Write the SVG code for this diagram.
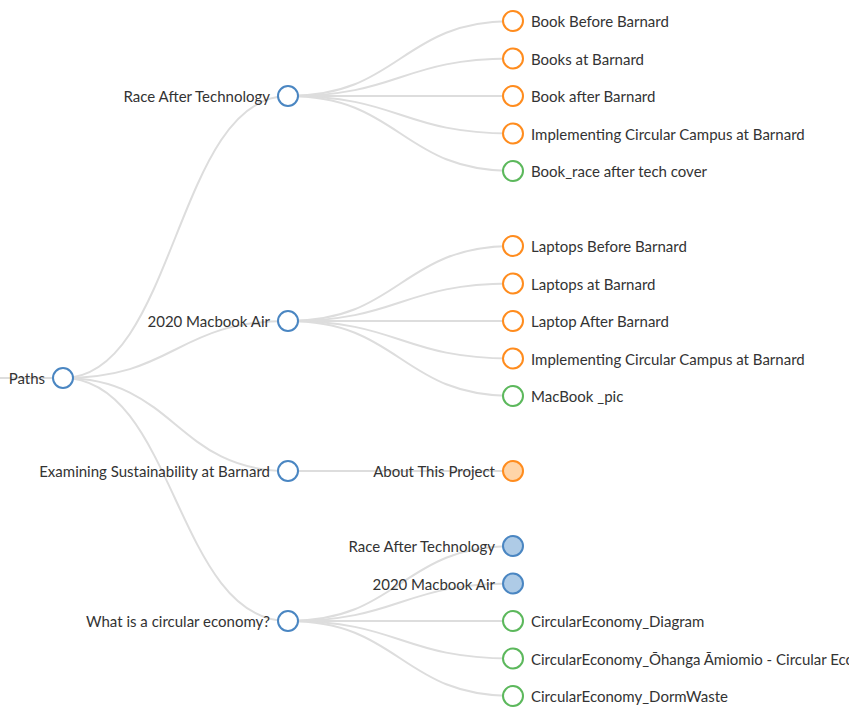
<svg xmlns="http://www.w3.org/2000/svg" width="849" height="708" viewBox="0 0 849 708">
<style>
.link{fill:none;stroke:#dddddd;stroke-width:2}
.node circle{stroke-width:2}
.b{stroke:#4a86c2;fill:#ffffff}
.bf{stroke:#4a86c2;fill:#aecbe6}
.o{stroke:#ff8c1e;fill:#ffffff}
.of{stroke:#ff8c1e;fill:#ffd5a8}
.g{stroke:#5cb85c;fill:#ffffff}
text{font-family:Lato,"Open Sans","Liberation Sans",sans-serif;font-size:15px;fill:#333333}
.r{text-anchor:end}
</style>
<rect width="849" height="708" fill="#ffffff"/>
<g id="links">
<path class="link" d="M0,378 L63,378"/>
<path class="link" d="M288,96 C175.5,96 175.5,378 63,378"/>
<path class="link" d="M288,321 C175.5,321 175.5,378 63,378"/>
<path class="link" d="M288,471 C175.5,471 175.5,378 63,378"/>
<path class="link" d="M288,621 C175.5,621 175.5,378 63,378"/>
<path class="link" d="M513,21 C400.5,21 400.5,96 288,96"/>
<path class="link" d="M513,58.5 C400.5,58.5 400.5,96 288,96"/>
<path class="link" d="M513,96 C400.5,96 400.5,96 288,96"/>
<path class="link" d="M513,133.5 C400.5,133.5 400.5,96 288,96"/>
<path class="link" d="M513,171 C400.5,171 400.5,96 288,96"/>
<path class="link" d="M513,246 C400.5,246 400.5,321 288,321"/>
<path class="link" d="M513,283.5 C400.5,283.5 400.5,321 288,321"/>
<path class="link" d="M513,321 C400.5,321 400.5,321 288,321"/>
<path class="link" d="M513,358.5 C400.5,358.5 400.5,321 288,321"/>
<path class="link" d="M513,396 C400.5,396 400.5,321 288,321"/>
<path class="link" d="M513,471 C400.5,471 400.5,471 288,471"/>
<path class="link" d="M513,546 C400.5,546 400.5,621 288,621"/>
<path class="link" d="M513,583.5 C400.5,583.5 400.5,621 288,621"/>
<path class="link" d="M513,621 C400.5,621 400.5,621 288,621"/>
<path class="link" d="M513,658.5 C400.5,658.5 400.5,621 288,621"/>
<path class="link" d="M513,696 C400.5,696 400.5,621 288,621"/>
</g>
<g id="n-paths" class="node" transform="translate(63,378)"><circle class="b" r="10"/><text class="r" x="-18" y="6">Paths</text></g>
<g id="n-race" class="node" transform="translate(288,96)"><circle class="b" r="10"/><text class="r" x="-18" y="6">Race After Technology</text></g>
<g id="n-macbook" class="node" transform="translate(288,321)"><circle class="b" r="10"/><text class="r" x="-18" y="6">2020 Macbook Air</text></g>
<g id="n-examining" class="node" transform="translate(288,471)"><circle class="b" r="10"/><text class="r" x="-18" y="6">Examining Sustainability at Barnard</text></g>
<g id="n-circular" class="node" transform="translate(288,621)"><circle class="b" r="10"/><text class="r" x="-18" y="6">What is a circular economy?</text></g>
<g id="n-book-before" class="node" transform="translate(513,21)"><circle class="o" r="10"/><text x="18" y="6">Book Before Barnard</text></g>
<g id="n-books-at" class="node" transform="translate(513,58.5)"><circle class="o" r="10"/><text x="18" y="6">Books at Barnard</text></g>
<g id="n-book-after" class="node" transform="translate(513,96)"><circle class="o" r="10"/><text x="18" y="6">Book after Barnard</text></g>
<g id="n-impl-1" class="node" transform="translate(513,133.5)"><circle class="o" r="10"/><text x="18" y="6">Implementing Circular Campus at Barnard</text></g>
<g id="n-book-cover" class="node" transform="translate(513,171)"><circle class="g" r="10"/><text x="18" y="6">Book_race after tech cover</text></g>
<g id="n-laptops-before" class="node" transform="translate(513,246)"><circle class="o" r="10"/><text x="18" y="6">Laptops Before Barnard</text></g>
<g id="n-laptops-at" class="node" transform="translate(513,283.5)"><circle class="o" r="10"/><text x="18" y="6">Laptops at Barnard</text></g>
<g id="n-laptop-after" class="node" transform="translate(513,321)"><circle class="o" r="10"/><text x="18" y="6">Laptop After Barnard</text></g>
<g id="n-impl-2" class="node" transform="translate(513,358.5)"><circle class="o" r="10"/><text x="18" y="6">Implementing Circular Campus at Barnard</text></g>
<g id="n-macbook-pic" class="node" transform="translate(513,396)"><circle class="g" r="10"/><text x="18" y="6">MacBook _pic</text></g>
<g id="n-about" class="node" transform="translate(513,471)"><circle class="of" r="10"/><text class="r" x="-18" y="6">About This Project</text></g>
<g id="n-race-2" class="node" transform="translate(513,546)"><circle class="bf" r="10"/><text class="r" x="-18" y="6">Race After Technology</text></g>
<g id="n-macbook-2" class="node" transform="translate(513,583.5)"><circle class="bf" r="10"/><text class="r" x="-18" y="6">2020 Macbook Air</text></g>
<g id="n-ce-diagram" class="node" transform="translate(513,621)"><circle class="g" r="10"/><text x="18" y="6">CircularEconomy_Diagram</text></g>
<g id="n-ce-ohanga" class="node" transform="translate(513,658.5)"><circle class="g" r="10"/><text x="18" y="6">CircularEconomy_Ōhanga Āmiomio - Circular Economy</text></g>
<g id="n-ce-dorm" class="node" transform="translate(513,696)"><circle class="g" r="10"/><text x="18" y="6">CircularEconomy_DormWaste</text></g>
</svg>
